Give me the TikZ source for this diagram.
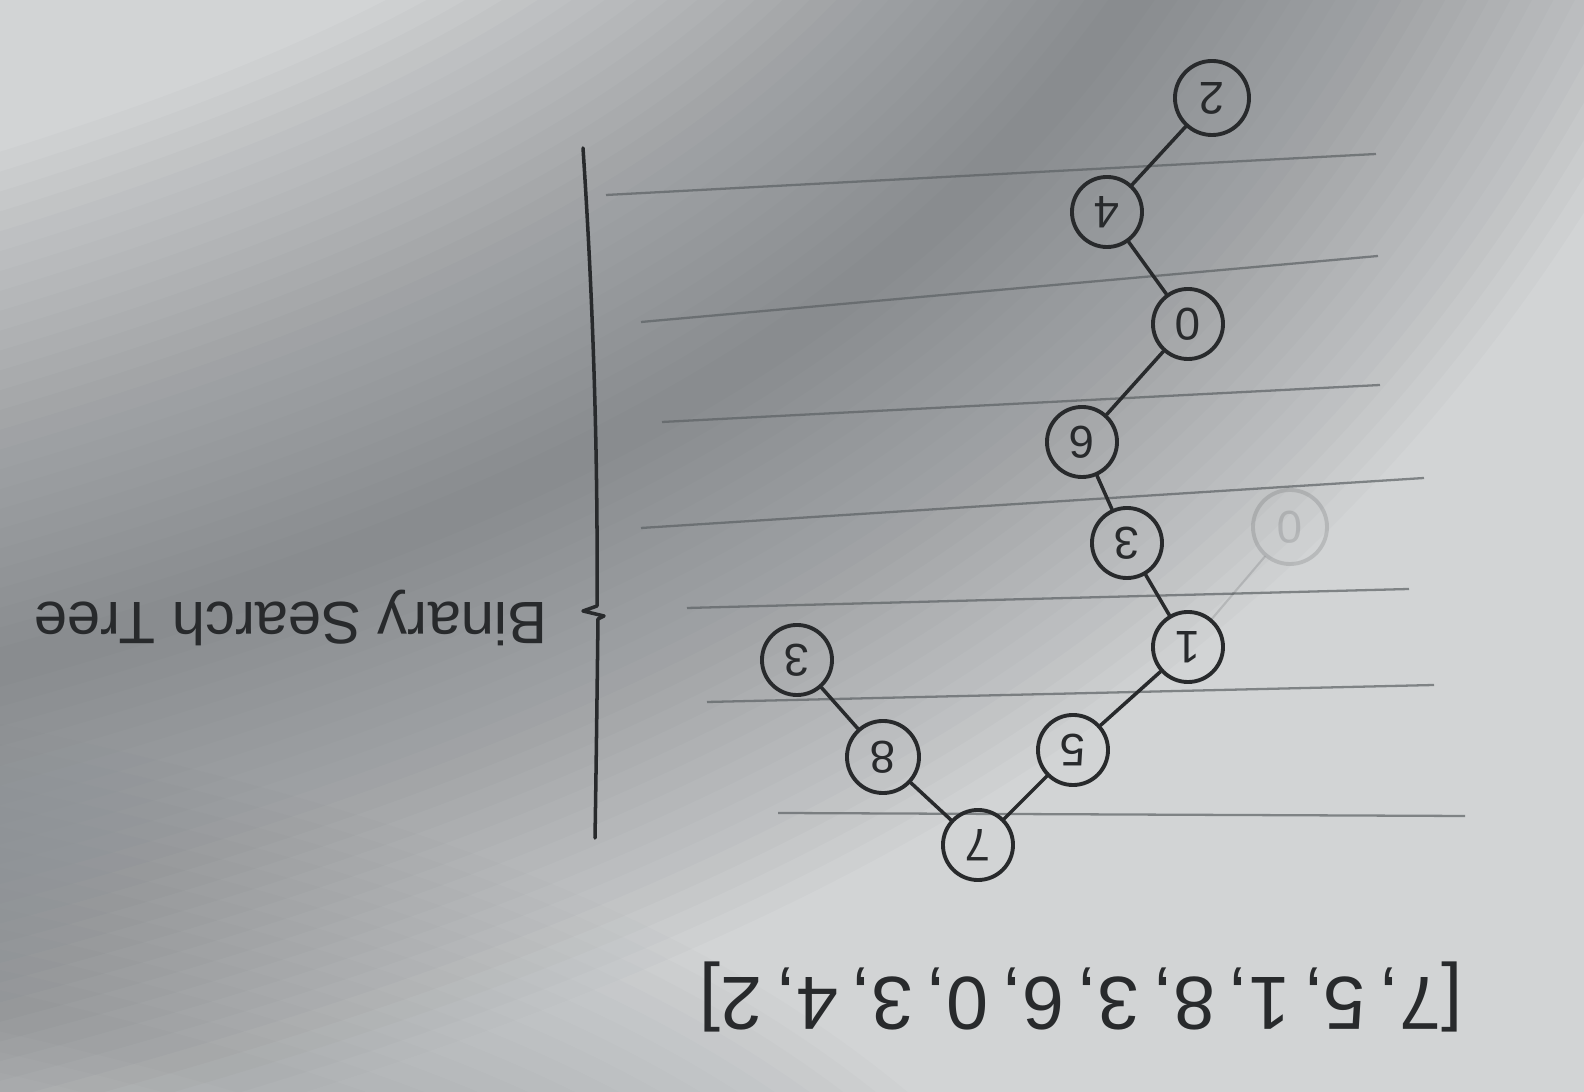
\documentclass[tikz,border=0pt]{standalone}
\usepackage{graphicx}
\usepackage{fontspec}
\setmainfont{Liberation Sans}
\definecolor{bgl}{RGB}{210,212,213}
\definecolor{shadec}{RGB}{95,100,104}
\definecolor{inkc}{RGB}{40,42,44}
\definecolor{rulec}{RGB}{92,97,100}
\begin{document}
\begin{tikzpicture}[x=0.01cm,y=-0.01cm,
  bnode/.style={circle, draw=inkc, line width=1.1pt, minimum size=0.70cm, inner sep=0pt,
    font=\fontsize{13}{13}\selectfont, text=inkc, rotate=180},
  edge/.style={draw=inkc, line width=1pt, line cap=round},
  rule/.style={draw=rulec, line width=0.65pt, opacity=0.7},
  label/.style={text=inkc, inner sep=0pt, rotate=180}]
\useasboundingbox (0,0) rectangle (1584,1092);
\fill[bgl] (0,0) rectangle (1584,1092);
\begin{scope}
  \clip (0,0) rectangle (1584,1092);
  \foreach \i in {1,...,26}
    \draw[shadec, line width=\i*0.38 cm, opacity=0.03]
      (1250,-200) .. controls (1000,300) and (600,520) .. (-200,720);
  \foreach \i in {1,...,14}
    \draw[shadec, line width=\i*0.4 cm, opacity=0.02]
      (-300,950) .. controls (400,1080) and (700,1200) .. (900,1500);
\end{scope}
% ruled lines
\draw[rule] (606,195) -- (1376,154);
\draw[rule] (641,322) -- (1378,256);
\draw[rule] (662,422) -- (1380,385);
\draw[rule] (641,528) -- (1424,478);
\draw[rule] (687,608) -- (1409,589);
\draw[rule] (707,702) -- (1434,685);
\draw[rule] (778,813) -- (1465,816);
% vertical line with brace
\draw[draw=inkc, line width=1pt, line cap=round, line join=round]
  (583,148) .. controls (593,300) and (598,450) .. (597,606)
  -- (583,611) -- (604,616) -- (598,619)
  .. controls (597,700) and (596,780) .. (595,838);
% ghost node
\node[bnode, draw opacity=0.15, text opacity=0.15, minimum size=0.74cm] (g) at (1290,527) {0};
% tree nodes
\node[bnode] (n7) at (978,845) {7};
\node[bnode] (n5) at (1073,750) {5};
\node[bnode] (n1) at (1188,647) {1};
\node[bnode] (n3a) at (1127,543) {3};
\node[bnode] (n6) at (1082,442) {6};
\node[bnode] (n0) at (1188,324) {0};
\node[bnode] (n4) at (1107,212) {4};
\node[bnode, minimum size=0.74cm] (n2) at (1212,98) {2};
\node[bnode, minimum size=0.72cm] (n8) at (883,757) {8};
\node[bnode] (n3b) at (797,660) {3};
% edges
\draw[edge] (n7) -- (n5);
\draw[edge] (n5) -- (n1);
\draw[edge] (n1) -- (n3a);
\draw[edge] (n3a) -- (n6);
\draw[edge] (n6) -- (n0);
\draw[edge] (n0) -- (n4);
\draw[edge] (n4) -- (n2);
\draw[edge] (n7) -- (n8);
\draw[edge] (n8) -- (n3b);
\draw[edge, draw opacity=0.15, line width=0.6pt] (n1) -- (g);
% texts
\node[label] (list) at (1081,997)
  {\resizebox{7.62cm}{!}{\fontsize{22}{22}\selectfont [7,\,5,\,1,\,8,\,3,\,6,\,0,\,3,\,4,\,2]}};
\node[label] (title) at (291,618)
  {\resizebox{5.13cm}{!}{\fontsize{16}{16}\selectfont Binary Search Tree}};
\end{tikzpicture}
\end{document}
